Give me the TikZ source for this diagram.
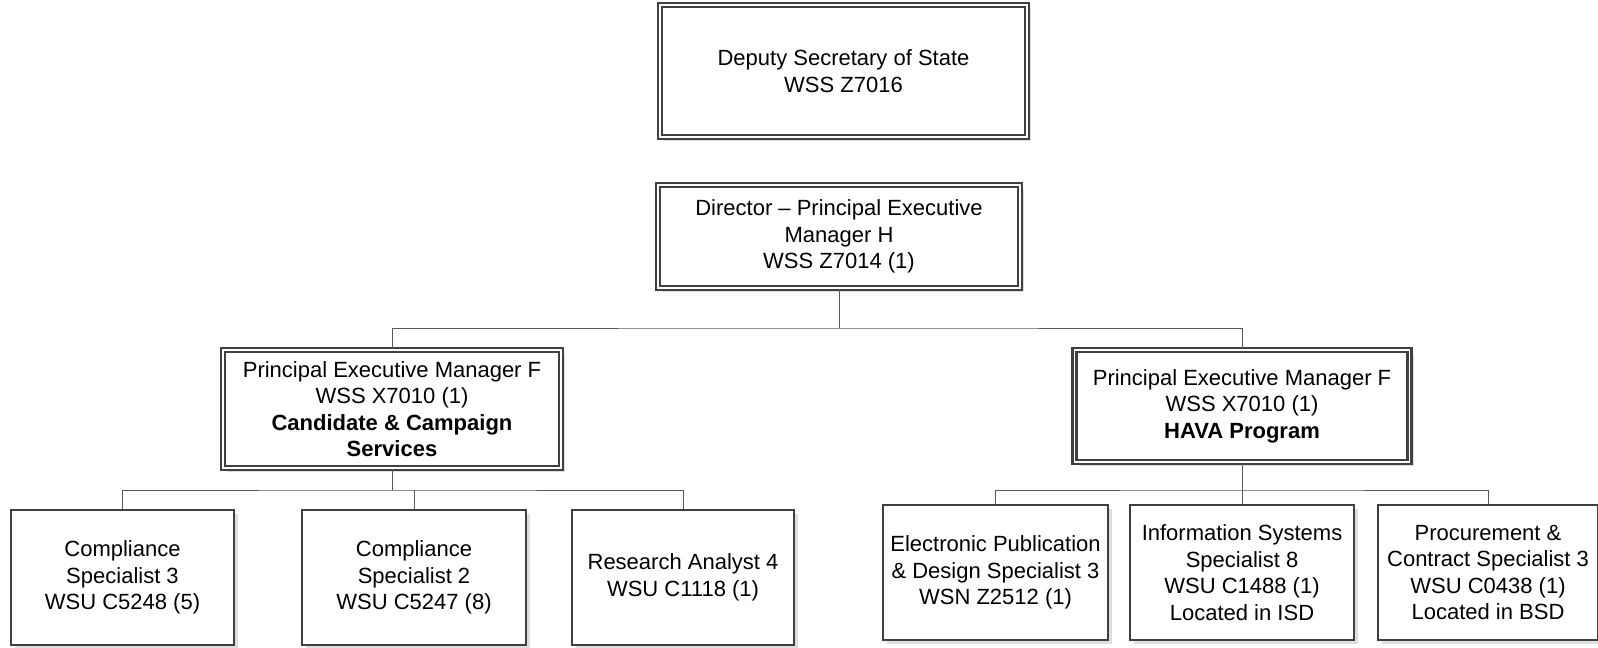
\documentclass[tikz,border=0pt]{standalone}
\usepackage{fontspec}
\setmainfont{Liberation Sans}
\usetikzlibrary{shadows}

\tikzset{
  post/.style={draw=black!75, fill=white, line width=1.4pt, align=center,
    font=\fontsize{11}{13.25}\selectfont, inner sep=1pt,
    drop shadow={shadow xshift=2pt, shadow yshift=-2pt, fill=black!13, opacity=1}},
  headpost/.style={post, double=white, double distance=0.9pt, line width=1.25pt},
  link/.style={draw=black!65, line width=0.5pt}
}

\begin{document}
\begin{tikzpicture}[x=0.5pt,y=-0.5pt]
\useasboundingbox (0,0) rectangle (1598,647);
% top of the chart
\node[headpost, minimum width=367*0.5pt, minimum height=132*0.5pt] (dss) at (843.5,71)
  {Deputy Secretary of State\\WSS Z7016};
\node[headpost, minimum width=362*0.5pt, minimum height=103*0.5pt] (dir) at (839,236.5)
  {Director -- Principal Executive\\Manager H\\WSS Z7014 (1)};
% the two managers
\node[headpost, minimum width=338*0.5pt, minimum height=118*0.5pt] (pemL) at (392,409)
  {Principal Executive Manager F\\WSS X7010 (1)\\\textbf{Candidate \& Campaign}\\\textbf{Services}};
\node[headpost, minimum width=335*0.5pt, minimum height=112*0.5pt] (pemR) at (1242,406)
  {Principal Executive Manager F\\WSS X7010 (1)\\\textbf{HAVA Program}};
% left staff
\node[post, minimum width=223*0.5pt, minimum height=135*0.5pt] (cs3) at (122.5,577.5)
  {Compliance\\Specialist 3\\WSU C5248 (5)};
\node[post, minimum width=224*0.5pt, minimum height=135*0.5pt] (cs2) at (414,577.5)
  {Compliance\\Specialist 2\\WSU C5247 (8)};
\node[post, minimum width=222*0.5pt, minimum height=135*0.5pt] (ra4) at (683,577.5)
  {Research Analyst 4\\WSU C1118 (1)};
% right staff
\node[post, minimum width=225*0.5pt, minimum height=135*0.5pt] (eps) at (995.5,572.5)
  {Electronic Publication\\\& Design Specialist 3\\WSN Z2512 (1)};
\node[post, minimum width=224*0.5pt, minimum height=135*0.5pt] (iss) at (1242,572.5)
  {Information Systems\\Specialist 8\\WSU C1488 (1)\\Located in ISD};
\node[post, minimum width=220*0.5pt, minimum height=135*0.5pt] (pcs) at (1488,572.5)
  {Procurement \&\\Contract Specialist 3\\WSU C0438 (1)\\Located in BSD};
% connectors
\coordinate (busTop) at (839,328);
\coordinate (busL) at (392,490);
\coordinate (busR) at (1242,490);
\draw[link] (dir.south) -- (busTop);
\draw[link] (pemL.north) |- (busTop) -| (pemR.north);
\draw[link] (pemL.south) -- (busL);
\draw[link] (cs3.north) |- (busL) -| (ra4.north);
\draw[link] (cs2.north) -- (cs2.north |- busL);
\draw[link] (pemR.south) -- (iss.north);
\draw[link] (eps.north) |- (busR) -| (pcs.north);
\end{tikzpicture}
\end{document}
